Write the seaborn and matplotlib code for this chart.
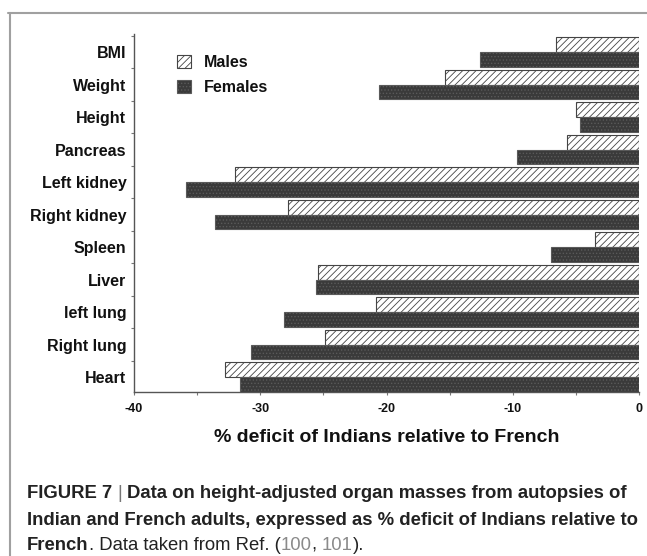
import matplotlib
matplotlib.use("Agg")
import matplotlib.pyplot as plt
import seaborn as sns
import pandas as pd
from matplotlib.patches import Patch
from matplotlib.lines import Line2D
from matplotlib.ticker import MultipleLocator, FixedLocator

organs = ["BMI", "Weight", "Height", "Pancreas", "Left kidney", "Right kidney",
          "Spleen", "Liver", "left lung", "Right lung", "Heart"]
males = [-6.6, -15.4, -5.0, -5.7, -32.0, -27.8, -3.5, -25.4, -20.8, -24.9, -32.8]
females = [-12.6, -20.6, -4.7, -9.7, -35.9, -33.6, -7.0, -25.6, -28.1, -30.7, -31.6]
series = ["Males", "Females"]
xticks = [-40, -30, -20, -10, 0]
xlabel = "% deficit of Indians relative to French"

sns.set_theme(style="white")
plt.rcParams["font.family"] = ["Liberation Sans", "DejaVu Sans"]
plt.rcParams["hatch.linewidth"] = 0.6

df = pd.DataFrame({
    "organ": organs * 2,
    "value": males + females,
    "sex": [series[0]] * len(organs) + [series[1]] * len(organs),
})

W, H = 647, 556
fig = plt.figure(figsize=(W / 100, H / 100), dpi=100)
ax = fig.add_axes([134 / W, 1 - 392 / H, (639 - 134) / W, (392 - 34) / H])

sns.barplot(data=df, x="value", y="organ", hue="sex", orient="h", width=0.92,
            palette={"Males": "white", "Females": "#3a3a3a"}, ax=ax,
            legend=False, saturation=1)

for bar in ax.containers[0]:
    bar.set_facecolor("white")
    bar.set_edgecolor("#444444")
    bar.set_hatch("/////")
    bar.set_linewidth(0.8)
for bar in ax.containers[1]:
    bar.set_facecolor("#3a3a3a")
    bar.set_edgecolor("#5a5a5a")
    bar.set_hatch(".....")
    bar.set_linewidth(0.8)

ax.set_xlim(-40, 0)
ax.set_ylim(10.46, -0.554)
ax.set_xticks(xticks)
ax.set_xticklabels([str(t) for t in xticks])
ax.xaxis.set_minor_locator(MultipleLocator(5))
ax.yaxis.set_minor_locator(FixedLocator([i + 0.5 for i in range(-1, len(organs))]))

for s in ["top", "right"]:
    ax.spines[s].set_visible(False)
for s in ["left", "bottom"]:
    ax.spines[s].set_color("#555555")
    ax.spines[s].set_linewidth(1.0)

ax.tick_params(axis="x", which="major", direction="out", length=2, width=0.8,
               color="#777777", pad=6, labelsize=9)
ax.tick_params(axis="x", which="minor", direction="out", length=2, width=0.8,
               color="#777777")
ax.tick_params(axis="y", which="major", length=0, pad=5.5, labelsize=11.5)
ax.tick_params(axis="y", which="minor", direction="out", length=2.5, width=0.8,
               color="#777777")
ax.tick_params(bottom=True, left=True, which="both")
for lab in ax.get_xticklabels() + ax.get_yticklabels():
    lab.set_fontweight("bold")
    lab.set_color("#111111")

ax.set_xlabel(xlabel, fontsize=14, fontweight="bold", color="#111111", labelpad=10)
ax.set_ylabel("")

handles = [
    Patch(facecolor="white", edgecolor="#444444", hatch="/////", linewidth=0.8),
    Patch(facecolor="#3a3a3a", edgecolor="#5a5a5a", hatch=".....", linewidth=0.8),
]
leg = ax.legend(handles, series, loc="upper left", bbox_to_anchor=(0.085, 0.942),
                frameon=False, borderpad=0, borderaxespad=0, handlelength=0.85,
                handleheight=0.85, handletextpad=0.85, labelspacing=0.62,
                prop={"weight": "bold", "size": 11.5})
for t in leg.get_texts():
    t.set_color("#111111")

# frame lines
fig.add_artist(Line2D([8 / W, 1.0], [1 - 13 / H, 1 - 13 / H], transform=fig.transFigure,
                      color="#a0a0a0", linewidth=1.5))
fig.add_artist(Line2D([10 / W, 10 / W], [0, 1 - 13 / H], transform=fig.transFigure,
                      color="#a0a0a0", linewidth=1.5))

# caption
renderer = fig.canvas.get_renderer()
dark = "#222222"
link = "#8a8a8a"
line2 = "Indian and French adults, expressed as % deficit of Indians relative to"

def width_px(txt, weight, size):
    t = fig.text(0, 0, txt, fontsize=size, fontweight=weight)
    w = t.get_window_extent(renderer).width
    t.remove()
    return w

cap_size = 11.0 * 614.0 / width_px(line2, "bold", 11.0)

space_b = width_px("a a", "bold", cap_size) - width_px("aa", "bold", cap_size)
space_r = width_px("a a", "normal", cap_size) - width_px("aa", "normal", cap_size)

def place(segments, x_px, base_px):
    x = x_px
    for txt, weight, color, gap in segments:
        if txt:
            t = fig.text(x / W, 1 - base_px / H, txt, fontsize=cap_size,
                         fontweight=weight, color=color, va="baseline", ha="left")
            x += t.get_window_extent(renderer).width
        x += gap

place([("FIGURE 7", "bold", dark, space_b),
       ("|", "light", "#777777", space_b),
       ("Data on height-adjusted organ masses from autopsies of", "bold", dark, 0)],
      27, 498.5)
place([(line2, "bold", dark, 0)], 27, 525)
place([("French", "bold", dark, 0),
       (". Data taken from Ref. (", "normal", dark, 0),
       ("100", "normal", link, 0),
       (",", "normal", dark, space_r),
       ("101", "normal", link, 0),
       (").", "normal", dark, 0)],
      27, 550)

fig.savefig("out.png", dpi=100)
